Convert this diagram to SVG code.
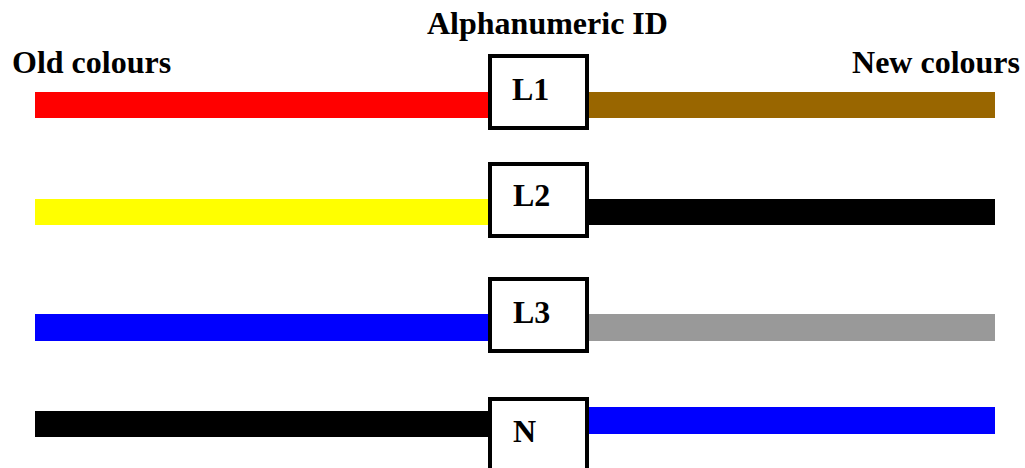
<svg xmlns="http://www.w3.org/2000/svg" width="1025" height="468" viewBox="0 0 1025 468">
<style>
text{font-family:"Liberation Serif","Times New Roman",serif;font-weight:bold;font-size:32px;fill:#000}
.box{fill:#fff;stroke:#000;stroke-width:4}
</style>
<rect width="1025" height="468" fill="#fff"/>
<g id="connectors">
<rect x="35" y="92" width="455" height="26" fill="#ff0000"/>
<rect x="587" y="92" width="408" height="26" fill="#996600"/>
<rect x="35" y="199" width="455" height="26" fill="#ffff00"/>
<rect x="587" y="199" width="408" height="26" fill="#000000"/>
<rect x="35" y="314" width="455" height="27" fill="#0000ff"/>
<rect x="587" y="314" width="408" height="27" fill="#999999"/>
<rect x="35" y="411" width="455" height="26" fill="#000000"/>
<rect x="587" y="407" width="408" height="27" fill="#0000ff"/>
</g>
<g id="titles">
<text x="427" y="34">Alphanumeric ID</text>
<text x="12" y="73">Old colours</text>
<text x="1020" y="73" text-anchor="end">New colours</text>
</g>
<g id="L1"><rect class="box" x="490" y="56" width="97" height="72"/><text x="512" y="100">L1</text></g>
<g id="L2"><rect class="box" x="490" y="164" width="97" height="72"/><text x="513" y="206">L2</text></g>
<g id="L3"><rect class="box" x="490" y="279" width="97" height="72"/><text x="513" y="323">L3</text></g>
<g id="N"><rect class="box" x="490" y="399" width="97" height="72"/><text x="513" y="442">N</text></g>
</svg>
